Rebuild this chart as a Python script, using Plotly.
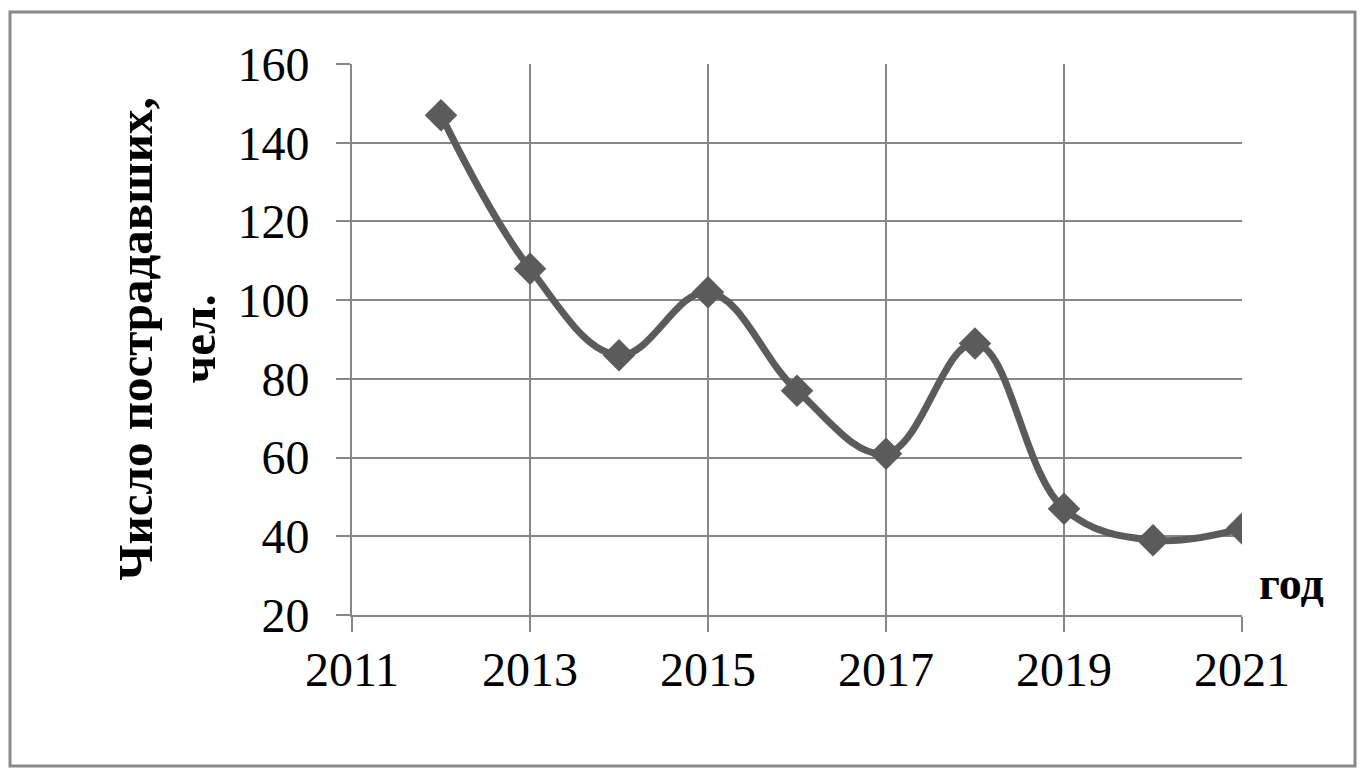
import plotly.graph_objects as go

years = [2012, 2013, 2014, 2015, 2016, 2017, 2018, 2019, 2020, 2021]
victims = [147, 108, 86, 102, 77, 61, 89, 47, 39, 42]

y_title = "Число пострадавших,<br>чел."
x_title = "год"

FONT = "Liberation Serif, Times New Roman, serif"
GRID = "#878787"
LINE = "#5b5b5b"

# page body has an 8px margin; work in screen pixels and shift
OFF = 8
SW, SH = 1369, 779
L, R, T, B = 352, 1242, 64, 615   # plot area edges on screen
W, H = SW - 2 * OFF, SH - 2 * OFF
pw, ph = R - L, B - T

def px(xp):
    return (xp - L) / pw

def py(yp):
    return (B - yp) / ph

fig = go.Figure()
fig.add_trace(go.Scatter(
    x=years, y=victims, mode="lines+markers",
    line=dict(color=LINE, width=7, shape="spline", smoothing=1.1),
    marker=dict(symbol="diamond", size=25, color=LINE),
    showlegend=False,
))

fig.update_layout(
    width=W, height=H,
    margin=dict(l=L - OFF, r=SW - OFF - R, t=T - OFF, b=SH - OFF - B),
    paper_bgcolor="white", plot_bgcolor="white",
    font=dict(family=FONT, color="black"),
    xaxis=dict(
        range=[2011, 2021], tick0=2011, dtick=2, tickmode="linear",
        showgrid=True, gridcolor=GRID, gridwidth=2,
        showline=True, linecolor=GRID, linewidth=2,
        ticks="outside", ticklen=15, tickwidth=2, tickcolor=GRID,
        tickfont=dict(size=48, family=FONT, color="black"),
        ticklabelstandoff=-4, zeroline=False,
    ),
    yaxis=dict(
        range=[20, 160], tick0=20, dtick=20, tickmode="linear",
        showgrid=True, gridcolor=GRID, gridwidth=2,
        showline=True, linecolor=GRID, linewidth=2,
        ticks="outside", ticklen=14, tickwidth=2, tickcolor=GRID,
        tickfont=dict(size=48, family=FONT, color="black"),
        ticklabelstandoff=17, zeroline=False,
    ),
    shapes=[dict(
        type="rect", xref="paper", yref="paper",
        x0=px(10), x1=px(1355), y0=py(766), y1=py(12),
        line=dict(color="#8a8a8a", width=3), fillcolor="rgba(0,0,0,0)",
        layer="below",
    )],
    annotations=[
        dict(text="<b>" + y_title + "</b>", xref="paper", yref="paper",
             x=px(167), y=0.5, xanchor="center", yanchor="middle",
             textangle=-90, showarrow=False,
             font=dict(size=49, family=FONT, color="black")),
        dict(text="<b>" + x_title + "</b>", xref="paper", yref="paper",
             x=px(1291), y=py(583), xanchor="center", yanchor="middle",
             showarrow=False,
             font=dict(size=46, family=FONT, color="black")),
    ],
)

fig.write_html("out.html")
